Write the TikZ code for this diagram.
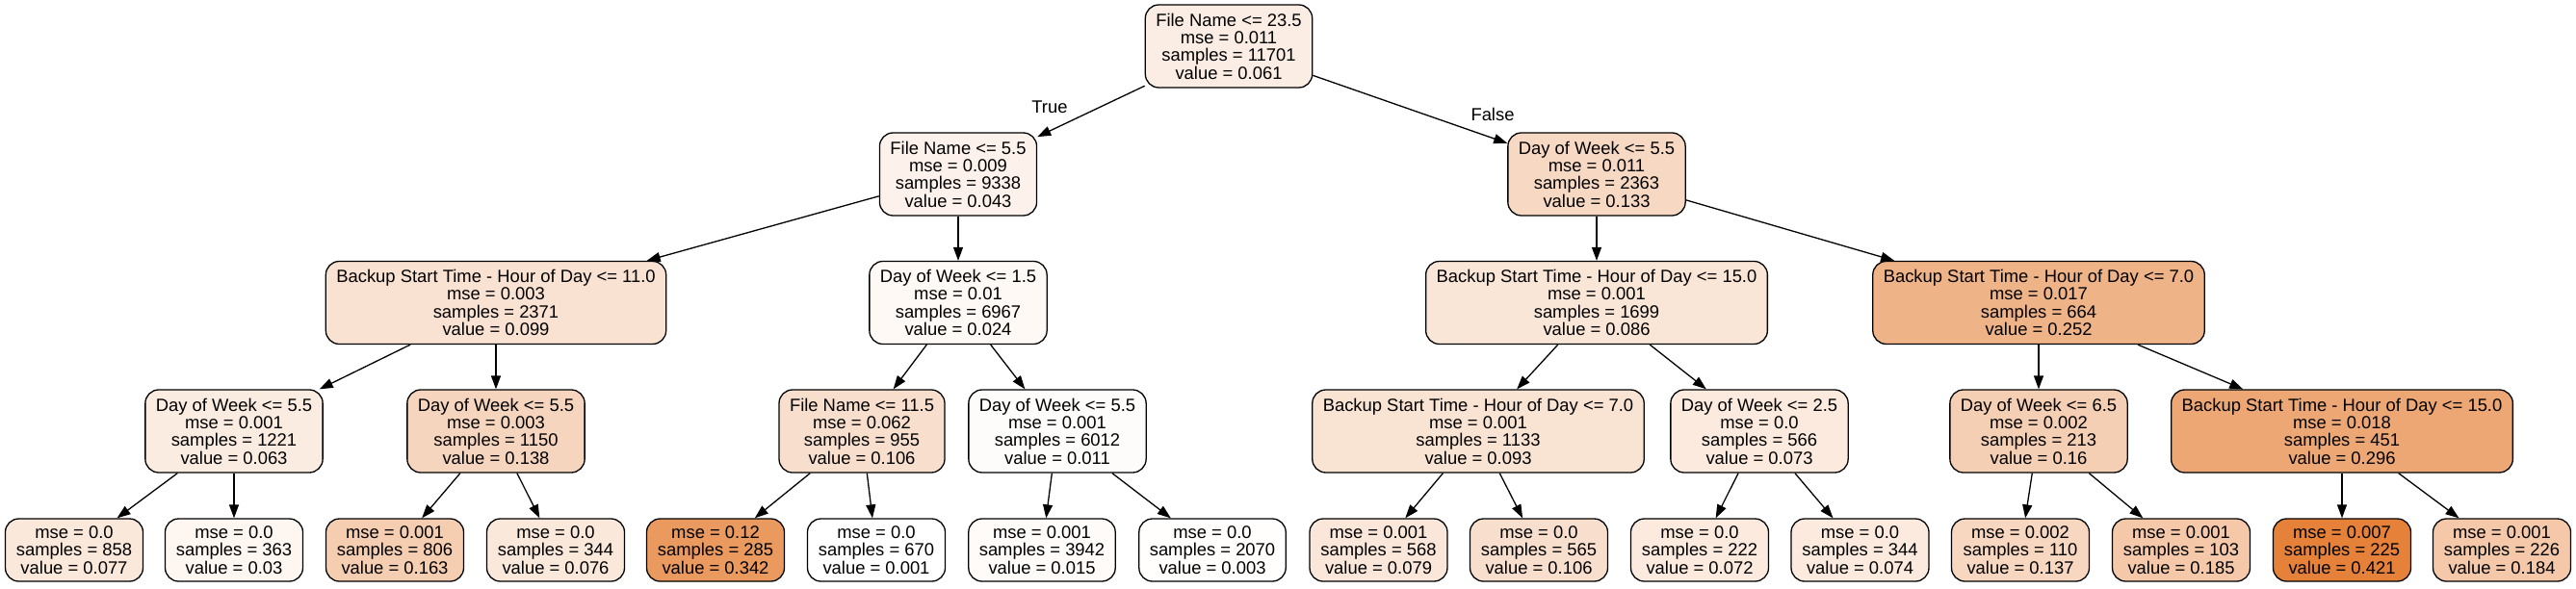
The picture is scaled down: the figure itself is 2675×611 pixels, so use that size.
\documentclass[tikz,border=0pt]{standalone}
\usepackage{fontspec}
\setmainfont{Liberation Sans}
\usepackage{tikz}
\usetikzlibrary{arrows.meta}
\definecolor{split-orange}{RGB}{229,129,57}
\tikzstyle{splitNode}=[draw, rounded corners=14pt, line width=1.3pt, align=center, inner xsep=11pt, inner ysep=3pt, minimum height=86pt, font=\fontsize{18.4}{18.3}\selectfont]
\tikzstyle{leafNode}=[splitNode, minimum width=143pt, minimum height=65pt]
\tikzstyle{edgeLabel}=[font=\fontsize{18.4}{18.3}\selectfont]

\begin{document}
\begin{tikzpicture}[x=1pt, y=1pt, line width=1.3pt, >={Triangle[length=14pt, width=10pt]}]
\useasboundingbox (0,0) rectangle (2675,-611);
\node (root) [splitNode, fill=split-orange!14] at (1276,-48) {File Name <= 23.5\\mse = 0.011\\samples = 11701\\value = 0.061};
\path (root)+(-281,-133) node (fileName55) [splitNode, fill=split-orange!10] {File Name <= 5.5\\mse = 0.009\\samples = 9338\\value = 0.043};
\path (root)+(382,-133) node (dayWeek55a) [splitNode, fill=split-orange!31] {Day of Week <= 5.5\\mse = 0.011\\samples = 2363\\value = 0.133};
\path (fileName55)+(-480,-133.5) node (hour110) [splitNode, fill=split-orange!23] {Backup Start Time - Hour of Day <= 11.0\\mse = 0.003\\samples = 2371\\value = 0.099};
\path (fileName55)+(0,-133.5) node (dayWeek15) [splitNode, fill=split-orange!5] {Day of Week <= 1.5\\mse = 0.01\\samples = 6967\\value = 0.024};
\path (dayWeek55a)+(0,-133.5) node (hour150a) [splitNode, fill=split-orange!20] {Backup Start Time - Hour of Day <= 15.0\\mse = 0.001\\samples = 1699\\value = 0.086};
\path (dayWeek55a)+(459,-133.5) node (hour70a) [splitNode, fill=split-orange!60] {Backup Start Time - Hour of Day <= 7.0\\mse = 0.017\\samples = 664\\value = 0.252};
\path (hour110)+(-272,-133.5) node (dayWeek55b) [splitNode, fill=split-orange!15] {Day of Week <= 5.5\\mse = 0.001\\samples = 1221\\value = 0.063};
\path (hour110)+(0,-133.5) node (dayWeek55c) [splitNode, fill=split-orange!33] {Day of Week <= 5.5\\mse = 0.003\\samples = 1150\\value = 0.138};
\path (dayWeek15)+(-100,-133.5) node (fileName115) [splitNode, fill=split-orange!25] {File Name <= 11.5\\mse = 0.062\\samples = 955\\value = 0.106};
\path (dayWeek15)+(103,-133.5) node (dayWeek55d) [splitNode, fill=split-orange!2] {Day of Week <= 5.5\\mse = 0.001\\samples = 6012\\value = 0.011};
\path (hour150a)+(-123,-133.5) node (hour70b) [splitNode, fill=split-orange!22] {Backup Start Time - Hour of Day <= 7.0\\mse = 0.001\\samples = 1133\\value = 0.093};
\path (hour150a)+(169,-133.5) node (dayWeek25) [splitNode, fill=split-orange!17] {Day of Week <= 2.5\\mse = 0.0\\samples = 566\\value = 0.073};
\path (hour70a)+(0,-133.5) node (dayWeek65) [splitNode, fill=split-orange!38] {Day of Week <= 6.5\\mse = 0.002\\samples = 213\\value = 0.16};
\path (hour70a)+(315,-133.5) node (hour150b) [splitNode, fill=split-orange!70] {Backup Start Time - Hour of Day <= 15.0\\mse = 0.018\\samples = 451\\value = 0.296};
\path (dayWeek55b)+(-166,-123.5) node (leafA) [leafNode, fill=split-orange!18] {mse = 0.0\\samples = 858\\value = 0.077};
\path (dayWeek55b)+(0,-123.5) node (leafB) [leafNode, fill=split-orange!7] {mse = 0.0\\samples = 363\\value = 0.03};
\path (dayWeek55c)+(-105,-123.5) node (leafC) [leafNode, fill=split-orange!39] {mse = 0.001\\samples = 806\\value = 0.163};
\path (dayWeek55c)+(62,-123.5) node (leafD) [leafNode, fill=split-orange!18] {mse = 0.0\\samples = 344\\value = 0.076};
\path (fileName115)+(-152,-123.5) node (leafE) [leafNode, fill=split-orange!81] {mse = 0.12\\samples = 285\\value = 0.342};
\path (fileName115)+(15,-123.5) node (leafF) [leafNode, fill=white] {mse = 0.0\\samples = 670\\value = 0.001};
\path (dayWeek55d)+(-16,-123.5) node (leafG) [leafNode, fill=split-orange!3] {mse = 0.001\\samples = 3942\\value = 0.015};
\path (dayWeek55d)+(161,-123.5) node (leafH) [leafNode, fill=split-orange!1] {mse = 0.0\\samples = 2070\\value = 0.003};
\path (hour70b)+(-103.5,-123.5) node (leafI) [leafNode, fill=split-orange!19] {mse = 0.001\\samples = 568\\value = 0.079};
\path (hour70b)+(63,-123.5) node (leafJ) [leafNode, fill=split-orange!25] {mse = 0.0\\samples = 565\\value = 0.106};
\path (dayWeek25)+(-62,-123.5) node (leafK) [leafNode, fill=split-orange!17] {mse = 0.0\\samples = 222\\value = 0.072};
\path (dayWeek25)+(104.5,-123.5) node (leafL) [leafNode, fill=split-orange!17] {mse = 0.0\\samples = 344\\value = 0.074};
\path (dayWeek65)+(-19,-123.5) node (leafM) [leafNode, fill=split-orange!32] {mse = 0.002\\samples = 110\\value = 0.137};
\path (dayWeek65)+(148,-123.5) node (leafN) [leafNode, fill=split-orange!44] {mse = 0.001\\samples = 103\\value = 0.185};
\path (hour150b)+(0,-123.5) node (leafO) [leafNode, fill=split-orange] {mse = 0.007\\samples = 225\\value = 0.421};
\path (hour150b)+(166,-123.5) node (leafP) [leafNode, fill=split-orange!44] {mse = 0.001\\samples = 226\\value = 0.184};
\path (root)+(-186,-63) node (trueLabel) [edgeLabel] {True};
\path (root)+(274,-71) node (falseLabel) [edgeLabel] {False};
\draw[->] (root) -- (fileName55);
\draw[->] (root) -- (dayWeek55a);
\draw[->] (fileName55) -- (hour110);
\draw[->] (fileName55) -- (dayWeek15);
\draw[->] (dayWeek55a) -- (hour150a);
\draw[->] (dayWeek55a) -- (hour70a);
\draw[->] (hour110) -- (dayWeek55b);
\draw[->] (hour110) -- (dayWeek55c);
\draw[->] (dayWeek15) -- (fileName115);
\draw[->] (dayWeek15) -- (dayWeek55d);
\draw[->] (hour150a) -- (hour70b);
\draw[->] (hour150a) -- (dayWeek25);
\draw[->] (hour70a) -- (dayWeek65);
\draw[->] (hour70a) -- (hour150b);
\draw[->] (dayWeek55b) -- (leafA);
\draw[->] (dayWeek55b) -- (leafB);
\draw[->] (dayWeek55c) -- (leafC);
\draw[->] (dayWeek55c) -- (leafD);
\draw[->] (fileName115) -- (leafE);
\draw[->] (fileName115) -- (leafF);
\draw[->] (dayWeek55d) -- (leafG);
\draw[->] (dayWeek55d) -- (leafH);
\draw[->] (hour70b) -- (leafI);
\draw[->] (hour70b) -- (leafJ);
\draw[->] (dayWeek25) -- (leafK);
\draw[->] (dayWeek25) -- (leafL);
\draw[->] (dayWeek65) -- (leafM);
\draw[->] (dayWeek65) -- (leafN);
\draw[->] (hour150b) -- (leafO);
\draw[->] (hour150b) -- (leafP);
\end{tikzpicture}
\end{document}
